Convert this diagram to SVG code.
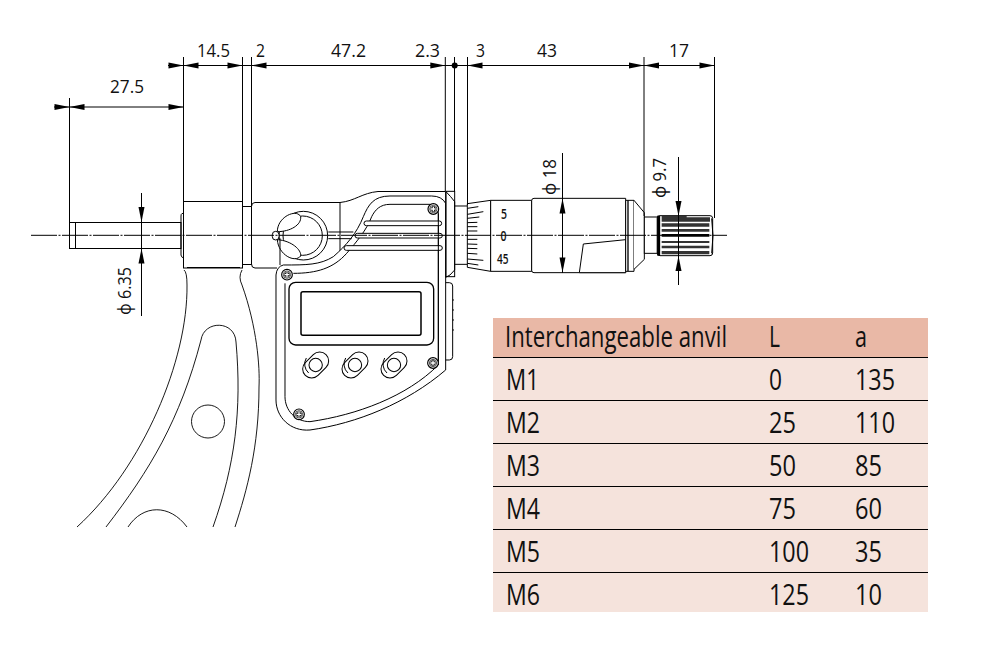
<svg xmlns="http://www.w3.org/2000/svg" width="985" height="660" viewBox="0 0 985 660">
<style>
text{font-family:"Open Sans","Noto Sans","Liberation Sans",sans-serif;fill:#111}
.l{fill:none;stroke:#000;stroke-width:1}
.t{fill:none;stroke:#000;stroke-width:.9}
.z{fill:none;stroke:#000;stroke-width:3}
.zw{fill:#fff;stroke:#000;stroke-width:3}
.c{fill:none;stroke:#000;stroke-width:1;stroke-dasharray:26 1.5 2 1.5}
.d{font-size:18px}
.s{font-size:13.500px;font-weight:600}
.v{font-size:29px}
</style>
<defs>
<path id="aL" d="M0 0L15 -3V3Z" fill="#000"/>
<path id="aR" d="M0 0L-15 -3V3Z" fill="#000"/>
<path id="aU" d="M0 0L-3 15H3Z" fill="#000"/>
<path id="aD" d="M0 0L-3 -15H3Z" fill="#000"/>
<g id="screw"><circle r="16" fill="#fff" stroke="#000" stroke-width="3.500"/><circle r="11" fill="none" stroke="#000" stroke-width="2"/><path d="M-8 0H8M0 -8V8" stroke="#000" stroke-width="9" fill="none"/><path d="M-7 0H7M0 -7V7" stroke="#fff" stroke-width="4" fill="none"/></g>
<g id="btn"><rect x="-44" y="-27" width="88" height="54" rx="27" class="zw"/><circle cx="0" cy="0" r="20" class="z"/><path d="M-28 -21A36 36 0 0 0 -21 24" class="z" transform="rotate(45)"/></g>
</defs>

<g id="frame">
<path class="t" d="M184 270Q187 272 187 285C188 360 143 467 77 527"/>
<path class="t" d="M201 340C180 420 150 470 106 527"/>
<path class="t" d="M201 340C204 320 235 320 236 342C242 410 235 465 213 527"/>
<path class="t" d="M242 270Q238 277 242 285C257 327 260 367 259 387C259 447 247 490 235 527"/>
<circle class="t" cx="208" cy="421.500" r="16.500"/>
<path class="t" d="M128 527C143 504 170 504 187 527"/>
<rect class="l" x="183.500" y="201.500" width="59" height="66.500" fill="#fff"/>
<path class="l" d="M187 267.500H240"/>
<path class="l" d="M183.500 213.500H182Q181 214 181 216V255Q181 257 183.500 258"/>
</g>

<g id="anvil">
<rect class="l" x="69.500" y="222.500" width="111.500" height="26"/>
<path class="l" d="M75.500 222.500V248.500"/>
</g>

<g id="body">
<path class="l" d="M242.500 206.500H251.500M242.500 264.500H251.500M251.500 206.500V264.500"/>
<path class="l" d="M340 202.500H255Q251.500 202.500 251.500 206.500V264Q251.500 268 255 268H277"/>
<path class="l" d="M340 202.500V268M340 202.500C355 201 362 193 378 191.500H445"/>
</g>

<g id="head" transform="translate(240 170) scale(.33333)">
<path class="zw" d="M617 600L617 100Q605 78 575 78H450C400 78 385 105 370 140C350 190 320 225 280 260C240 285 200 285 130 285Q110 290 108 315V690C108 740 150 785 210 780C350 760 500 700 617 600Z"/>
<path class="z" d="M135 340V680C135 720 165 755 210 755C350 735 500 680 595 585V130Q595 103 570 103H450C420 103 405 120 395 140C380 180 350 215 320 250C280 295 230 310 160 310"/>
<circle class="zw" cx="190" cy="197" r="73"/>
<circle class="z" cx="188" cy="197" r="59"/>
<path class="zw" d="M112 185C112 140 170 115 182 140C185 165 150 185 112 185Z"/>
<path class="zw" d="M112 209C155 212 185 240 182 258C165 280 115 255 112 209Z"/>
<rect class="zw" x="97" y="184" width="20" height="26" rx="10"/>
<path class="z" d="M120 205V285M265 186H340M265 206H335"/>
<rect class="zw" x="372" y="153" width="233" height="14" rx="7"/>
<rect class="zw" x="345" y="190" width="262" height="14" rx="7"/>
<rect class="zw" x="312" y="227" width="295" height="14" rx="7"/>
<path class="z" d="M595 130V585"/>
<rect x="147" y="337" width="434" height="188" rx="20" fill="#fff" stroke="#000" stroke-width="4"/>
<rect x="183" y="365" width="360" height="131" rx="6" fill="#fff" stroke="#000" stroke-width="4.500"/>
<use href="#btn" transform="translate(227 585) rotate(-45)"/>
<use href="#btn" transform="translate(345 585) rotate(-45)"/>
<use href="#btn" transform="translate(462 585) rotate(-45)"/>
<use href="#screw" x="580" y="117"/>
<use href="#screw" x="141" y="314"/>
<use href="#screw" x="579" y="579"/>
<use href="#screw" x="177" y="733"/>
<path class="z" d="M617 338H628Q638 338 638 348V560Q638 570 628 570H617"/>
<path class="z" d="M638 390h4M638 420h4M638 450h4M638 480h4"/>
</g>

<g id="sleeve" transform="translate(430 30) scale(.33333)">
<path class="zw" d="M47 484L62 500L74 515V720L60 735L47 742Z"/>
<rect class="z" x="48" y="484" width="26" height="256" fill="none"/>
<path class="z" d="M74 528H112M74 703H112"/>
<path class="zw" d="M112 521L182 511V724L112 712Z"/>
<path class="z" d="M112 535L145 530M112 553L160 545M112 565L148 561M112 578L142 577M112 590H142M112 603H142M112 628H142M112 642L142 643M112 655L142 656M112 670L142 672M112 687L160 691M112 700L145 705"/>
<path class="zw" d="M182 511H305V724H182Z"/>
<path class="zw" d="M305 512Q305 505 312 505H587V728H312Q305 728 305 721Z"/>
<path class="zw" d="M460 642L587 629V728H448Z"/>
<path class="zw" d="M587 511H612V724H587Z" stroke-width="4"/>
<path d="M594 511V724" fill="none" stroke="#000" stroke-width="4"/>
<path class="zw" d="M612 511L643 548V688L612 718"/>
<rect class="zw" x="643" y="561" width="39" height="109"/>
<rect x="682" y="557" width="166" height="120" rx="8" fill="#fff" stroke="#000" stroke-width="3"/>
<path d="M686 557V677" stroke="#000" stroke-width="9"/>
<path d="M695 558H770V562H840V575H695ZM695 580H838V590H695ZM695 597H838V605H695ZM695 633H838V639H695ZM695 647H838V655H695ZM695 663H838V673H695Z" fill="#333"/>
<path d="M695 612H838V620H695Z" fill="#000"/>
<path d="M845 565Q853 617 845 670" class="z"/>
</g>

<g id="connectors">
<path class="c" d="M31 235.300H727"/>
<path class="l" d="M168 65.500H714.500M54 107H183.500"/>
<path class="l" d="M69.500 98V222M183.500 57V201M242.500 57V201M251.500 57V206M445.300 57V191M454.500 57V192M467.500 57V205M644 57V216M714.500 57V218"/>
<circle cx="454.700" cy="65.500" r="3" fill="#000"/>
<use href="#aR" x="183.500" y="65.500"/><use href="#aL" x="183.500" y="65.500"/><use href="#aR" x="242.500" y="65.500"/><use href="#aL" x="251.500" y="65.500"/><use href="#aR" x="445.300" y="65.500"/><use href="#aL" x="467.500" y="65.500"/><use href="#aR" x="644" y="65.500"/><use href="#aL" x="644" y="65.500"/><use href="#aR" x="714.500" y="65.500"/>
<use href="#aR" x="69.500" y="107"/><use href="#aL" x="69.500" y="107"/><use href="#aR" x="183.500" y="107"/>
<path class="l" d="M141.500 193V316M562.500 153V273M678.500 157V285"/>
<use href="#aD" x="141.500" y="222"/><use href="#aU" x="141.500" y="248.500"/>
<use href="#aU" x="562.500" y="198.500"/><use href="#aD" x="562.500" y="272.500"/>
<use href="#aD" x="678.500" y="216"/><use href="#aU" x="678.500" y="256"/>
</g>

<g id="dimensions">
<text class="d" x="197" y="57" textLength="33" lengthAdjust="spacingAndGlyphs">14.5</text>
<text class="d" x="256" y="57" textLength="9" lengthAdjust="spacingAndGlyphs">2</text>
<text class="d" x="331" y="57" textLength="35" lengthAdjust="spacingAndGlyphs">47.2</text>
<text class="d" x="415" y="57" textLength="25" lengthAdjust="spacingAndGlyphs">2.3</text>
<text class="d" x="476" y="57" textLength="9" lengthAdjust="spacingAndGlyphs">3</text>
<text class="d" x="537" y="57" textLength="20" lengthAdjust="spacingAndGlyphs">43</text>
<text class="d" x="669" y="57" textLength="20" lengthAdjust="spacingAndGlyphs">17</text>
<text class="d" x="110" y="93" textLength="34" lengthAdjust="spacingAndGlyphs">27.5</text>
<text class="d" transform="translate(131 315) rotate(-90)" textLength="48" lengthAdjust="spacingAndGlyphs">ϕ 6.35</text>
<text class="d" transform="translate(556 195) rotate(-90)" textLength="36" lengthAdjust="spacingAndGlyphs">ϕ 18</text>
<text class="d" transform="translate(666 198) rotate(-90)" textLength="40" lengthAdjust="spacingAndGlyphs">ϕ 9.7</text>
<text class="s" x="501" y="218.500" textLength="6" lengthAdjust="spacingAndGlyphs">5</text>
<text class="s" x="500.500" y="241" textLength="6" lengthAdjust="spacingAndGlyphs">0</text>
<text class="s" x="497" y="264" textLength="11.500" lengthAdjust="spacingAndGlyphs">45</text>
</g>

<g id="table">
<rect x="493" y="318" width="435" height="40" fill="#e9b8a6"/>
<rect x="493" y="358" width="435" height="254" fill="#f5e3dc"/>
<path class="l" d="M493 357.500H928M493 400.500H928M493 443.500H928M493 486.500H928M493 529.500H928M493 572.500H928"/>
<g class="v">
<text transform="translate(505 347) scale(.74 1)" textLength="300" lengthAdjust="spacingAndGlyphs">Interchangeable anvil</text>
<text x="769" y="347" textLength="11" lengthAdjust="spacingAndGlyphs">L</text>
<text x="855" y="347" textLength="12" lengthAdjust="spacingAndGlyphs">a</text>
<text x="506" y="390" textLength="33" lengthAdjust="spacingAndGlyphs">M1</text>
<text x="769" y="390" textLength="13" lengthAdjust="spacingAndGlyphs">0</text>
<text x="855" y="390" textLength="40" lengthAdjust="spacingAndGlyphs">135</text>
<text x="506" y="433" textLength="34" lengthAdjust="spacingAndGlyphs">M2</text>
<text x="769" y="433" textLength="27" lengthAdjust="spacingAndGlyphs">25</text>
<text x="855" y="433" textLength="40" lengthAdjust="spacingAndGlyphs">110</text>
<text x="506" y="476" textLength="34" lengthAdjust="spacingAndGlyphs">M3</text>
<text x="769" y="476" textLength="27" lengthAdjust="spacingAndGlyphs">50</text>
<text x="855" y="476" textLength="27" lengthAdjust="spacingAndGlyphs">85</text>
<text x="506" y="519" textLength="34" lengthAdjust="spacingAndGlyphs">M4</text>
<text x="769" y="519" textLength="27" lengthAdjust="spacingAndGlyphs">75</text>
<text x="855" y="519" textLength="27" lengthAdjust="spacingAndGlyphs">60</text>
<text x="506" y="562" textLength="34" lengthAdjust="spacingAndGlyphs">M5</text>
<text x="769" y="562" textLength="40" lengthAdjust="spacingAndGlyphs">100</text>
<text x="855" y="562" textLength="27" lengthAdjust="spacingAndGlyphs">35</text>
<text x="506" y="605" textLength="34" lengthAdjust="spacingAndGlyphs">M6</text>
<text x="769" y="605" textLength="40" lengthAdjust="spacingAndGlyphs">125</text>
<text x="855" y="605" textLength="27" lengthAdjust="spacingAndGlyphs">10</text>
</g>
</g>
</svg>
